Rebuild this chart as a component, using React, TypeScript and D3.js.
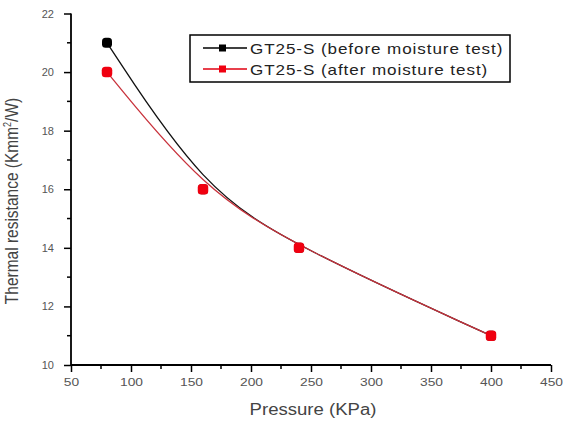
import * as d3 from "d3";
import { useEffect, useRef } from "react";

// values
const pressure = [80, 160, 240, 400];
const beforeTest = [21, 16, 14, 11];
const afterTest = [20, 16, 14, 11];
const xTicks = [50, 100, 150, 200, 250, 300, 350, 400, 450];
const yTicks = [10, 12, 14, 16, 18, 20, 22];
const seriesNames = ["GT25-S (before moisture test)", "GT25-S (after moisture test)"];

export default function App() {
  const svgRef = useRef<SVGSVGElement>(null);
  const width = 564;
  const height = 423;
  const marginLeft = 71;
  const marginRight = 13;
  const marginTop = 13.5;
  const marginBottom = 58;

  useEffect(() => {
    const svg = d3.select(svgRef.current);
    svg.selectAll("*").remove();

    const x = d3.scaleLinear().domain([50, 450]).range([marginLeft, width - marginRight]);
    const y = d3.scaleLinear().domain([10, 22]).range([height - marginBottom, marginTop]);

    const font = "Arial, 'Liberation Sans', sans-serif";

    // bottom axis, major and minor ticks outward
    const xAxis = svg.append("g").attr("transform", `translate(0,${y(10)})`);
    xAxis.call(d3.axisBottom(x).tickValues(xTicks).tickSize(7).tickPadding(6).tickFormat(d3.format("d")))
      .call(g => g.select(".domain").attr("stroke-width", 1.8).attr("d", `M${x(50)},0H${x(450)}`))
      .call(g => g.selectAll(".tick line").attr("stroke-width", 1.5))
      .call(g => g.selectAll(".tick text")
        .attr("font-size", 11.5).attr("fill", "#555").attr("font-family", font)
        .attr("transform", "scale(1.2,1)"));
    xAxis.selectAll(".minor")
      .data(xTicks.slice(0, -1).map(d => d + 25))
      .enter().append("line")
      .attr("x1", d => x(d)).attr("x2", d => x(d))
      .attr("y1", 0).attr("y2", 4)
      .attr("stroke", "#000").attr("stroke-width", 1.5);

    // left axis
    const yAxis = svg.append("g").attr("transform", `translate(${x(50)},0)`);
    yAxis.call(d3.axisLeft(y).tickValues(yTicks).tickSize(7).tickPadding(10).tickFormat(d3.format("d")))
      .call(g => g.select(".domain").attr("stroke-width", 1.8).attr("d", `M0,${y(22)}V${y(10)}`))
      .call(g => g.selectAll(".tick line").attr("stroke-width", 1.5))
      .call(g => g.selectAll(".tick text").attr("font-size", 11).attr("fill", "#555").attr("font-family", font));
    yAxis.selectAll(".minor")
      .data(yTicks.slice(0, -1).map(d => d + 1))
      .enter().append("line")
      .attr("y1", d => y(d)).attr("y2", d => y(d))
      .attr("x1", 0).attr("x2", -4)
      .attr("stroke", "#000").attr("stroke-width", 1.5);

    // B-spline style lines like Origin
    const line = d3.line<number>()
      .x((d, i) => x(pressure[i]))
      .y(d => y(d))
      .curve(d3.curveBasis);

    const series = [
      { name: seriesNames[0], values: beforeTest, line: "#111", mark: "#000", size: 10 },
      { name: seriesNames[1], values: afterTest, line: "#c8323c", mark: "#f00010", size: 10.5 },
    ];

    series.forEach(s => {
      svg.append("path")
        .attr("d", line(s.values))
        .attr("fill", "none")
        .attr("stroke", s.line)
        .attr("stroke-width", 1.3);
    });

    series.forEach(s => {
      svg.selectAll(null)
        .data(s.values)
        .enter().append("rect")
        .attr("x", (d, i) => x(pressure[i]) - s.size / 2)
        .attr("y", d => y(d) - s.size / 2)
        .attr("width", s.size)
        .attr("height", s.size)
        .attr("rx", 3.5)
        .attr("fill", s.mark);
    });

    // legend
    const legend = svg.append("g").attr("transform", "translate(190,35)");
    legend.append("rect")
      .attr("width", 320).attr("height", 47)
      .attr("fill", "#fff").attr("stroke", "#000").attr("stroke-width", 1.5);
    series.forEach((s, i) => {
      const row = legend.append("g").attr("transform", `translate(0,${13 + i * 21})`);
      row.append("line").attr("x1", 13).attr("x2", 57).attr("y1", 0).attr("y2", 0)
        .attr("stroke", i === 0 ? "#000" : "#e00010").attr("stroke-width", 1.5);
      row.append("rect").attr("x", 29).attr("y", -3.5).attr("width", 7).attr("height", 7)
        .attr("fill", s.mark);
      row.append("text")
        .attr("transform", "translate(60,5.5) scale(1.22,1)")
        .attr("font-size", 14).attr("font-family", font).attr("fill", "#222")
        .attr("letter-spacing", 0.75)
        .text(s.name);
    });

    // axis titles
    svg.append("text")
      .attr("transform", `translate(${(x(50) + x(450)) / 2 + 2},415) scale(1.16,1)`)
      .attr("text-anchor", "middle")
      .attr("font-size", 16).attr("font-family", font).attr("fill", "#444")
      .text("Pressure (KPa)");

    const yTitle = svg.append("text")
      .attr("transform", `translate(18,201) rotate(-90) scale(1,1.15)`)
      .attr("text-anchor", "middle")
      .attr("font-size", 15.5).attr("font-family", font).attr("fill", "#444");
    yTitle.append("tspan").text("Thermal resistance (Kmm");
    yTitle.append("tspan").attr("font-size", 9).attr("dy", -6).text("2");
    yTitle.append("tspan").attr("dy", 6).text("/W)");
  }, []);

  return (
    <svg
      ref={svgRef}
      width={width}
      height={height}
      style={{ position: "absolute", left: 0, top: 0, background: "#fff" }}
    />
  );
}
